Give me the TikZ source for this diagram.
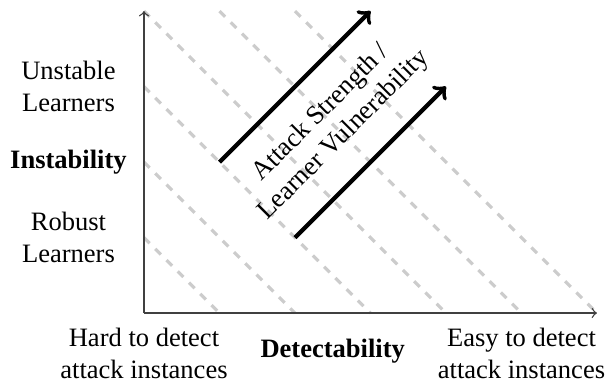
\documentclass[tikz,border=0pt]{standalone}
\usepackage{fontspec}
\setmainfont{Liberation Serif}
\begin{document}
\begin{tikzpicture}[
  axisline/.style={draw=black!75, line width=0.5pt, ->},
  guide/.style={draw=black!20, line width=1.2pt, dashed},
  bigarrow/.style={draw=black, line width=1.6pt, ->},
  lbl/.style={align=center, inner sep=0pt, font=\fontsize{10}{12}\selectfont},
  blbl/.style={lbl, font=\fontsize{10}{12}\selectfont\bfseries}
]
\useasboundingbox (-1.907,-0.9007) rectangle (6.146,4.146);
% named points
\coordinate (O) at (0,0);
\coordinate (Ytop) at (0,4);
\coordinate (Xend) at (6,0);
% dashed guide lines x + y = k
\foreach \k in {1,2,3,4} {
  \coordinate (g\k a) at (0,\k);
  \coordinate (g\k b) at (\k,0);
  \draw[guide] (g\k a) -- (g\k b);
}
\coordinate (g5a) at (1,4);
\coordinate (g5b) at (5,0);
\draw[guide] (g5a) -- (g5b);
\coordinate (g6a) at (2,4);
\coordinate (g6b) at (6,0);
\draw[guide] (g6a) -- (g6b);
% axes
\draw[axisline] (O) -- (Ytop);
\draw[axisline] (O) -- (Xend);
% thick arrows
\coordinate (a1s) at (1,2);
\coordinate (a1e) at (3,4);
\coordinate (a2s) at (2,1);
\coordinate (a2e) at (4,3);
\draw[bigarrow] (a1s) -- (a1e);
\draw[bigarrow] (a2s) -- (a2e);
% diagonal label
\node[lbl, rotate=45] (diag) at (2.5,2.5) {Attack Strength /\\Learner Vulnerability};
% left labels
\node[lbl] (unst) at (-1,3) {Unstable\\Learners};
\node[blbl] (inst) at (-1,2) {Instability};
\node[lbl] (rob) at (-1,1) {Robust\\Learners};
% bottom labels
\node[lbl] (hard) at (0,-0.53) {Hard to detect\\attack instances};
\node[blbl] (det) at (2.5,-0.5) {Detectability};
\node[lbl] (easy) at (5,-0.53) {Easy to detect\\attack instances};
\end{tikzpicture}
\end{document}
